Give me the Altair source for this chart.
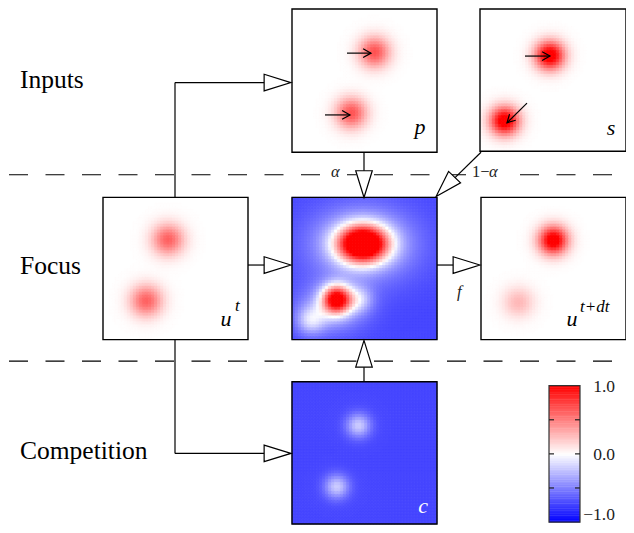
import numpy as np
import pandas as pd
import altair as alt

# ---------------- data ----------------
panel_names = ["p", "s", "u_t", "focus", "u_tdt", "c"]
panel_base = [0.0, 0.0, 0.0, -0.72, 0.0, -0.72]

# Gaussian bumps of each field (panel index, centre as panel fraction, amplitude, widths)
blob_panel = [0, 0, 1, 1, 2, 2, 3, 3, 3, 3, 3, 3, 4, 4, 5, 5]
blob_cx = [0.57, 0.41, 0.48, 0.17, 0.45, 0.30, 0.49, 0.49, 0.31, 0.13, 0.47, 0.28, 0.50, 0.26, 0.46, 0.31]
blob_cy = [0.305, 0.73, 0.33, 0.79, 0.30, 0.73, 0.33, 0.33, 0.72, 0.87, 0.72, 0.78, 0.305, 0.74, 0.31, 0.74]
blob_amp = [0.68, 0.68, 1.15, 1.15, 0.62, 0.62, 2.0, 0.55, 1.6, 0.45, 0.35, 0.42, 1.15, 0.28, 0.52, 0.52]
blob_sx = [0.075, 0.075, 0.07, 0.07, 0.078, 0.078, 0.12, 0.25, 0.07, 0.07, 0.065, 0.16, 0.07, 0.075, 0.06, 0.06]
blob_sy = [0.075, 0.075, 0.07, 0.07, 0.078, 0.078, 0.09, 0.18, 0.07, 0.07, 0.065, 0.12, 0.07, 0.075, 0.06, 0.06]

row_labels = ["Inputs", "Focus", "Competition"]
colorbar_ticks = [-1.0, -0.5, 0.0, 0.5, 1.0]
colorbar_labels = ["\u22121.0", "0.0", "1.0"]
colorbar_label_vals = [-1.0, 0.0, 1.0]

# ---------------- layout (image pixel space) ----------------
panel_box = {
    "p": (294, 439, 7, 153),
    "s": (482, 628, 7, 152),
    "u_t": (105, 250, 199, 344),
    "focus": (294, 439, 199, 344),
    "u_tdt": (483, 628, 199, 344),
    "c": (294, 439, 387, 532),
}
cbar_box = (551, 582, 391, 530)
SC = 0.99

xs = alt.Scale(domain=[10, 628], nice=False, zero=False)
ys = alt.Scale(domain=[6, 533], nice=False, zero=False, reverse=True)
cs = alt.Scale(domain=[-1, 0, 1], range=["#0000ff", "#ffffff", "#ff0000"],
               interpolate="rgb", clamp=True)
SERIF = "Liberation Serif"


def X(f):
    return alt.X(f, type="quantitative", scale=xs, axis=None)


def Y(f):
    return alt.Y(f, type="quantitative", scale=ys, axis=None)


# ---------------- heat-map cells ----------------
N = 48
cells = []
for pi, name in enumerate(panel_names):
    x0, x1, y0, y1 = panel_box[name]
    w = (x1 - x0) / N
    h = (y1 - y0) / N
    f = (np.arange(N) + 0.5) / N
    FX, FY = np.meshgrid(f, f)
    V = np.full_like(FX, panel_base[pi])
    for b in range(len(blob_panel)):
        if blob_panel[b] == pi:
            V = V + blob_amp[b] * np.exp(-((FX - blob_cx[b]) ** 2 / (2 * blob_sx[b] ** 2)
                                           + (FY - blob_cy[b]) ** 2 / (2 * blob_sy[b] ** 2)))
    for j in range(N):
        for i in range(N):
            cells.append(dict(x=round(x0 + i * w, 2), x2=round(min(x1, x0 + (i + 1) * w + 0.3), 2),
                              y=round(y0 + j * h, 2), y2=round(min(y1, y0 + (j + 1) * h + 0.3), 2),
                              v=round(float(V[j, i]), 4)))
cells = pd.DataFrame(cells)

heat = alt.Chart(cells).mark_rect(strokeWidth=0.6).encode(
    x=X("x"), x2="x2", y=Y("y"), y2="y2",
    color=alt.Color("v:Q", scale=cs, legend=None),
    stroke=alt.Stroke("v:Q", scale=cs, legend=None))

# panel borders
borders = pd.DataFrame([dict(x=b[0], x2=b[1], y=b[2], y2=b[3]) for b in panel_box.values()])
border_layer = alt.Chart(borders).mark_rect(fill=None, stroke="black", strokeWidth=1.4).encode(
    x=X("x"), x2="x2", y=Y("y"), y2="y2")

# dashed separators
dashes = pd.DataFrame([dict(x=11, x2=626, y=176), dict(x=11, x2=626, y=366)])
dash_layer = alt.Chart(dashes).mark_rule(color="black", strokeWidth=1.2,
                                          strokeDash=[19, 17.5]).encode(
    x=X("x"), x2="x2", y=Y("y"))

# white masks behind alpha labels
masks = pd.DataFrame([dict(x=329, x2=349, y=166, y2=182), dict(x=469, x2=509, y=166, y2=182)])
mask_layer = alt.Chart(masks).mark_rect(fill="white").encode(
    x=X("x"), x2="x2", y=Y("y"), y2="y2")

# connector lines
segs = pd.DataFrame([
    dict(x=177, y=199, x2=177, y2=82), dict(x=177, y=82, x2=268, y2=82),
    dict(x=177, y=344, x2=177, y2=460), dict(x=177, y=460, x2=268, y2=460),
    dict(x=250, y=268, x2=268, y2=268),
    dict(x=366, y=153, x2=366, y2=174),
    dict(x=483, y=153, x2=455, y2=181),
    dict(x=439, y=268, x2=457, y2=268),
    dict(x=366, y=387, x2=366, y2=370),
])
seg_layer = alt.Chart(segs).mark_rule(color="black", strokeWidth=1.2).encode(
    x=X("x"), y=Y("y"), x2="x2", y2="y2")

# hollow arrow heads (tip, angle)
heads = []
L = 27.0
for tx, ty, ang in [(293, 82, 0), (293, 460, 0), (293, 268, 0), (366, 199, 90),
                    (438, 198, 133.7), (482, 268, 0), (366, 345, 270)]:
    r = np.radians(ang)
    heads.append(dict(x=tx - L / 2 * np.cos(r), y=ty - L / 2 * np.sin(r), ang=ang))
heads = pd.DataFrame(heads)
head_layer = alt.Chart(heads).mark_point(
    shape="M 1 0 L -1 -0.62 L -1 0.62 Z", filled=True, fill="white", stroke="black",
    strokeWidth=1.2, size=(L * SC) ** 2, opacity=1).encode(
    x=X("x"), y=Y("y"), angle=alt.Angle("ang:Q", scale=None))

# small motion arrows inside p and s
small = pd.DataFrame([
    dict(x=349, y=52, x2=373, y2=52, ang=0),
    dict(x=327, y=115, x2=352, y2=115, ang=0),
    dict(x=527, y=55, x2=552, y2=55, ang=0),
    dict(x=529, y=103, x2=509, y2=123, ang=135),
])
small_lines = alt.Chart(small).mark_rule(color="black", strokeWidth=1.2).encode(
    x=X("x"), y=Y("y"), x2="x2", y2="y2")
small_heads = alt.Chart(small).mark_point(
    shape="M -1 -0.55 L 0 0 L -1 0.55", filled=False, stroke="black", strokeWidth=1.2,
    size=(2 * 8 * SC) ** 2, opacity=1).encode(
    x=X("x2"), y=Y("y2"), angle=alt.Angle("ang:Q", scale=None))

# colour bar
cx0, cx1, cy0, cy1 = cbar_box
NB = 80
cb = []
for k in range(NB):
    v = -1 + (k + 0.5) * 2 / NB
    yb = cy1 - k * (cy1 - cy0) / NB
    cb.append(dict(x=cx0, x2=cx1, y=yb + 0.4, y2=yb - (cy1 - cy0) / NB, v=v))
cb = pd.DataFrame(cb)
cb_layer = alt.Chart(cb).mark_rect(strokeWidth=0).encode(
    x=X("x"), x2="x2", y=Y("y"), y2="y2", color=alt.Color("v:Q", scale=cs, legend=None))
cb_border = alt.Chart(pd.DataFrame([dict(x=cx0, x2=cx1, y=cy0, y2=cy1)])).mark_rect(
    fill=None, stroke="#333333", strokeWidth=1.2).encode(x=X("x"), x2="x2", y=Y("y"), y2="y2")


def cb_y(v):
    return cy1 - (v + 1) / 2 * (cy1 - cy0)


ticks = []
for v in colorbar_ticks[1:-1]:
    ticks.append(dict(x=cx0, x2=cx0 + 5, y=cb_y(v)))
    ticks.append(dict(x=cx1 - 5, x2=cx1, y=cb_y(v)))
tick_layer = alt.Chart(pd.DataFrame(ticks)).mark_rule(color="#222222", strokeWidth=1.2).encode(
    x=X("x"), x2="x2", y=Y("y"))
cb_text = pd.DataFrame([dict(x=617, y=min(cb_y(v) + 1, 523), t=t)
                        for v, t in zip(colorbar_label_vals, colorbar_labels)])
cb_text_layer = alt.Chart(cb_text).mark_text(font=SERIF, fontSize=17.5, align="right",
                                             baseline="middle", color="#222222").encode(
    x=X("x"), y=Y("y"), text="t:N")

# texts
rows = pd.DataFrame([dict(x=22, y=88, t=row_labels[0]), dict(x=22, y=277, t=row_labels[1]),
                     dict(x=22, y=466, t=row_labels[2])])
row_layer = alt.Chart(rows).mark_text(font=SERIF, fontSize=25.5, align="left",
                                      baseline="alphabetic", color="black").encode(
    x=X("x"), y=Y("y"), text="t:N")

math_main = pd.DataFrame([
    dict(x=422, y=134, t="p", c="black"), dict(x=613, y=135, t="s", c="black"),
    dict(x=228, y=330, t="u", c="black"), dict(x=574, y=330, t="u", c="black"),
    dict(x=425, y=521, t="c", c="white"),
])
math_layer = alt.Chart(math_main).mark_text(font=SERIF, fontSize=22, fontStyle="italic",
                                            align="center", baseline="alphabetic").encode(
    x=X("x"), y=Y("y"), text="t:N", color=alt.Color("c:N", scale=None))
sup = pd.DataFrame([dict(x=237, y=315, t="t"), dict(x=582, y=316, t="t+dt")])
sup_layer = alt.Chart(sup).mark_text(font=SERIF, fontSize=17, fontStyle="italic",
                                     align="left", baseline="alphabetic", color="black").encode(
    x=X("x"), y=Y("y"), text="t:N")
small_it = pd.DataFrame([dict(x=333, y=173, t="\u03b1"), dict(x=491, y=173, t="\u03b1"),
                         dict(x=459, y=296, t="f")])
small_it_layer = alt.Chart(small_it).mark_text(font=SERIF, fontSize=16.5, fontStyle="italic",
                                               align="left", baseline="middle",
                                               color="#222222").encode(
    x=X("x"), y=Y("y"), text="t:N")
small_up = pd.DataFrame([dict(x=474, y=173, t="1\u2212")])
small_up_layer = alt.Chart(small_up).mark_text(font=SERIF, fontSize=16.5, align="left",
                                               baseline="middle", color="#222222").encode(
    x=X("x"), y=Y("y"), text="t:N")

chart = alt.layer(
    dash_layer, mask_layer, heat, border_layer, seg_layer, head_layer,
    small_lines, small_heads, cb_layer, cb_border, tick_layer, cb_text_layer,
    row_layer, math_layer, sup_layer, small_it_layer, small_up_layer,
).properties(
    width=618, height=517, padding=0,
    autosize=alt.AutoSizeParams(type="none"),
).configure_view(stroke=None)

chart.save("out.html", embed_options={"renderer": "svg", "actions": False})
